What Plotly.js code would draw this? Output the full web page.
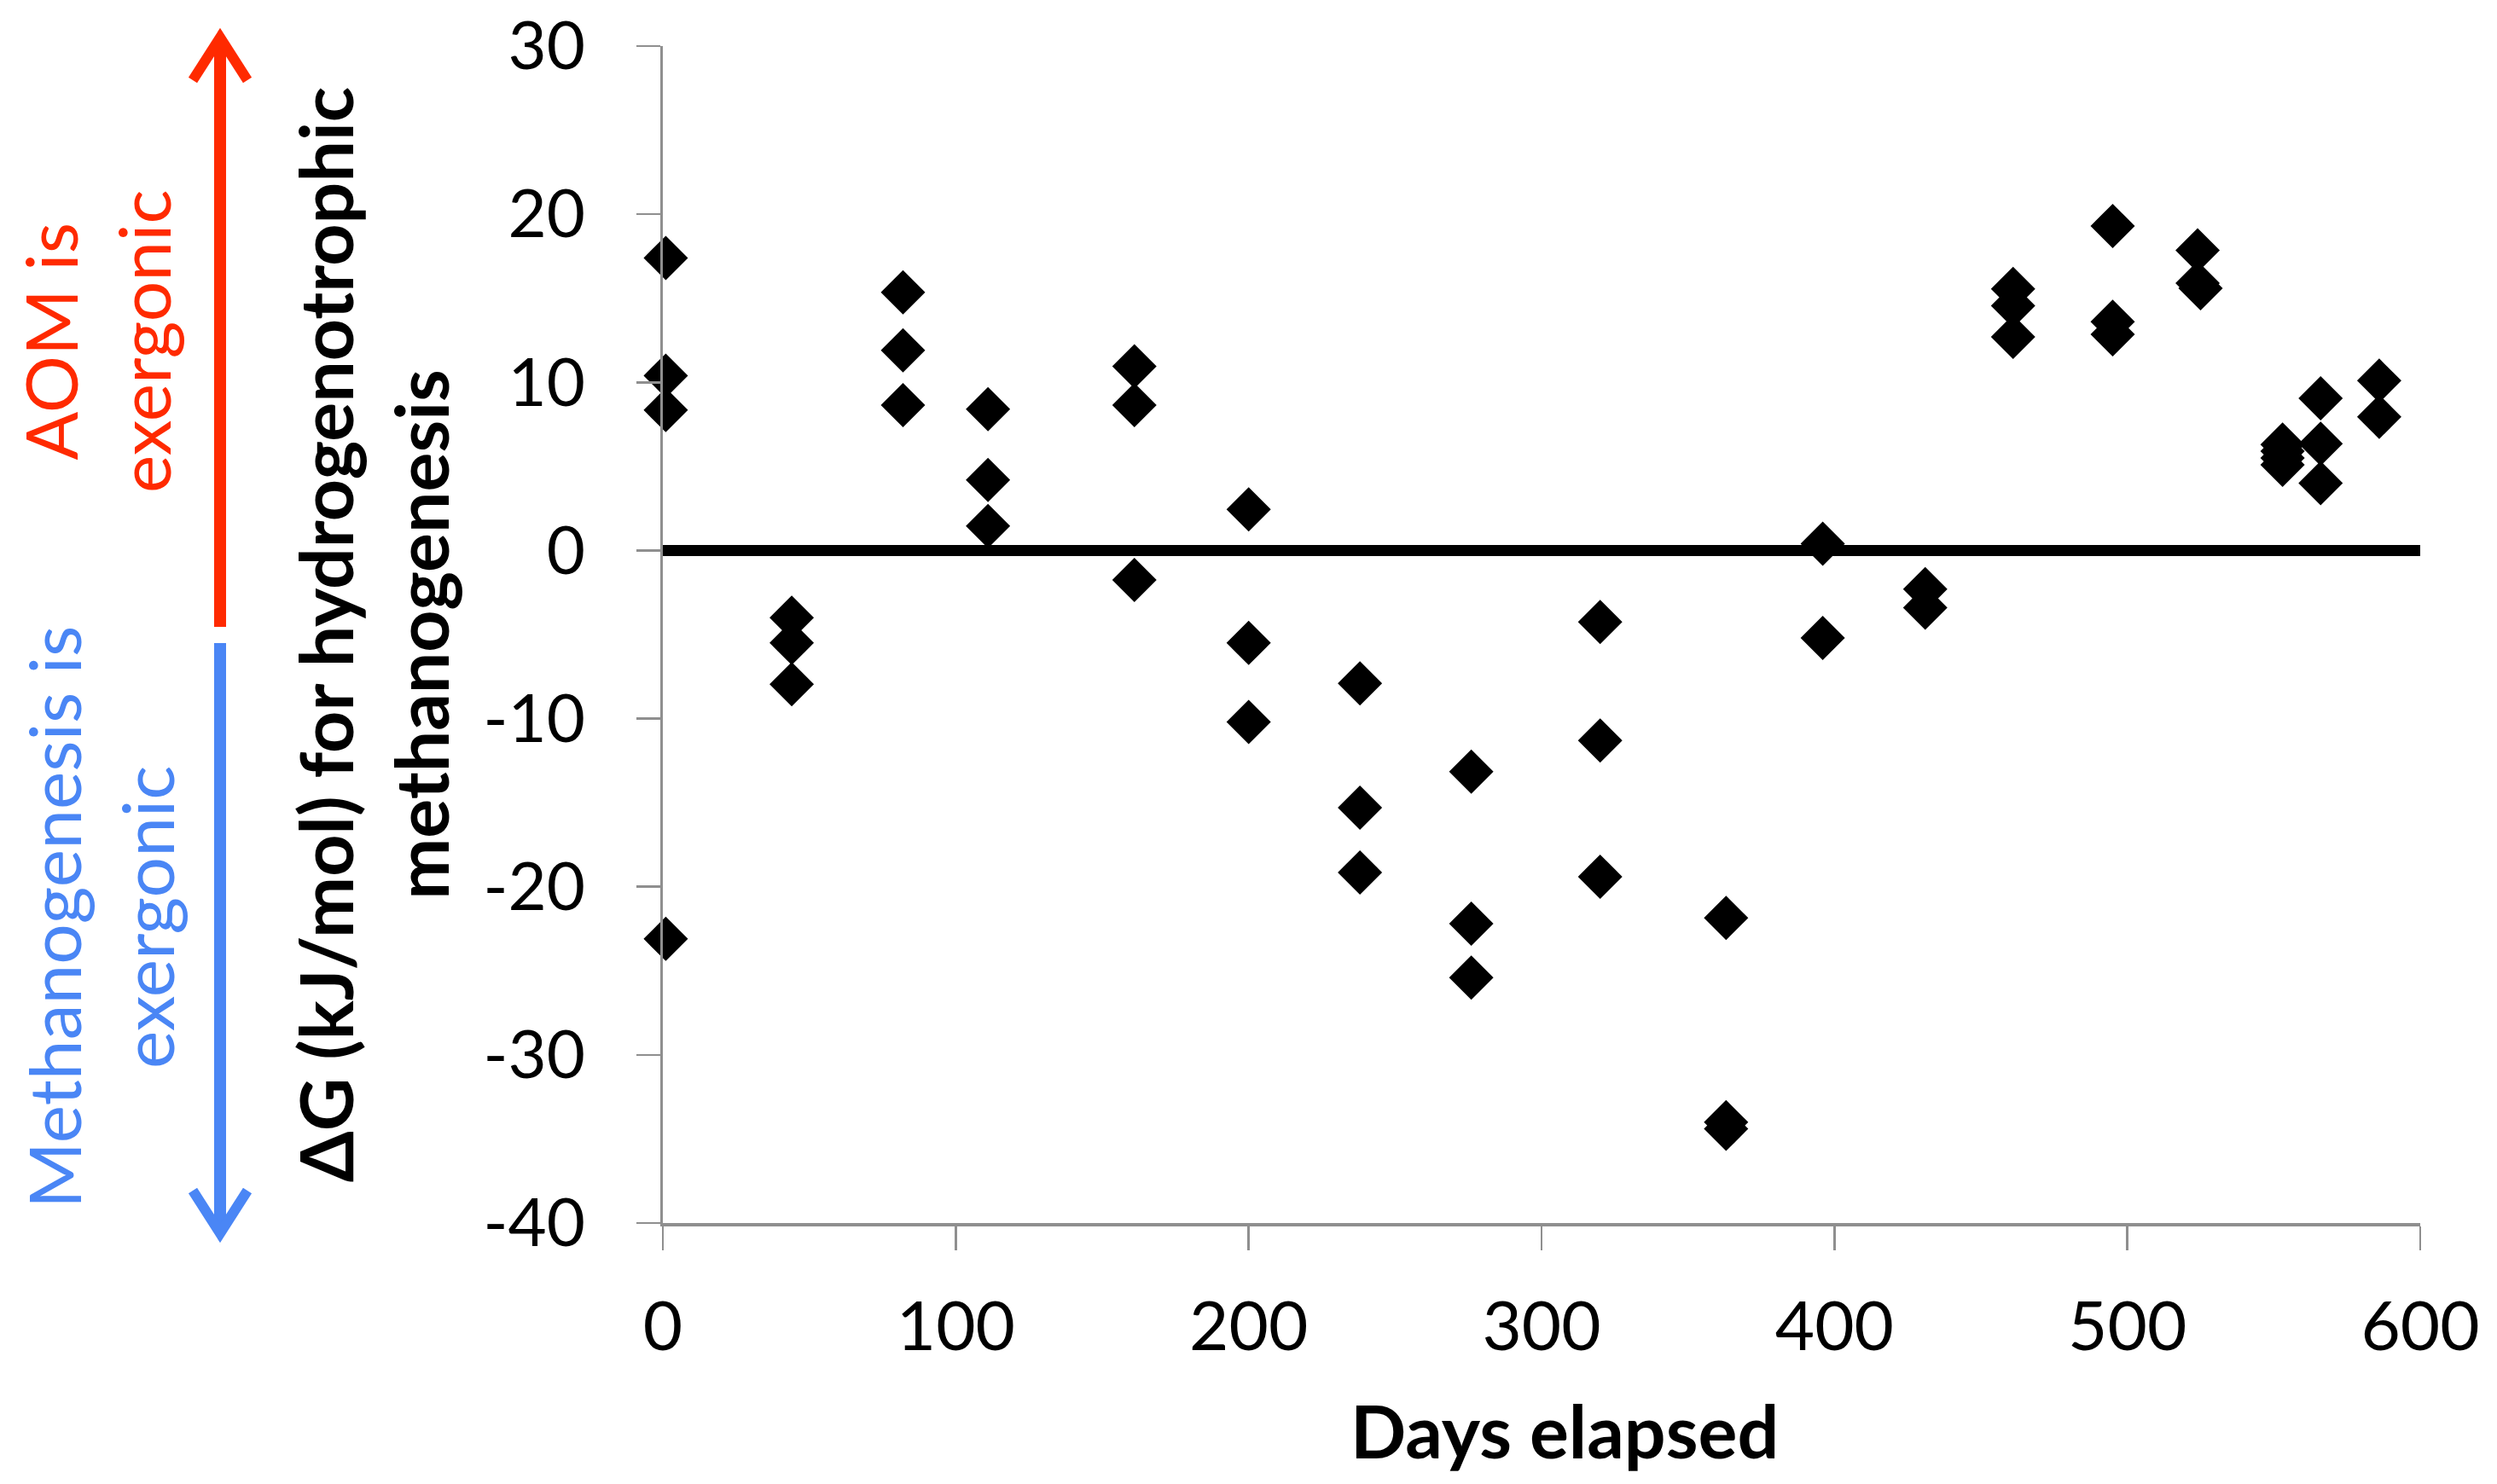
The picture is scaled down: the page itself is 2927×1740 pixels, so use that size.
<!DOCTYPE html>
<html>
<head>
<meta charset="utf-8">
<script src="https://cdn.plot.ly/plotly-3.0.1.min.js"></script>
<style>
  html, body { margin: 0; padding: 0; background: #fff; }
  #chart { width: 2927px; height: 1740px; }
</style>
</head>
<body>
<div id="chart"></div>
<script>
// sampling day of each measurement
const days = [
  1, 1, 1, 1,
  44, 44, 44,
  82, 82, 82,
  111, 111, 111,
  161, 161, 161,
  200, 200, 200,
  238, 238, 238,
  276, 276, 276,
  320, 320, 320,
  363, 363, 363,
  396, 396,
  431, 431,
  461, 461, 461,
  495, 495, 495,
  524, 524, 525,
  553, 553, 553, 553,
  566, 566, 566,
  586, 586
];

// ΔG (kJ/mol) for hydrogenotrophic methanogenesis
const deltaG = [
  17.4, 10.4, 8.35, -23.1,
  -4.0, -5.5, -7.95,
  15.35, 11.9, 8.65,
  8.4, 4.2, 1.45,
  10.95, 8.65, -1.75,
  2.45, -5.5, -10.2,
  -7.9, -15.3, -19.15,
  -13.15, -22.2, -25.4,
  -4.25, -11.3, -19.4,
  -21.85, -34.0, -34.4,
  0.4, -5.2,
  -2.3, -3.4,
  15.55, 14.55, 12.7,
  19.3, 13.6, 12.85,
  17.85, 15.9, 15.6,
  6.3, 5.9, 5.5, 5.1,
  9.05, 6.35, 4.0,
  10.1, 7.95
];

const xRange = [0, 600];
const yRange = [-40, 30];
const xTicks = [0, 100, 200, 300, 400, 500, 600];
const yTicks = [-40, -30, -20, -10, 0, 10, 20, 30];

const axisGray = "#8f8f8f";
const redCol = "#ff2a00";
const blueCol = "#4a86f5";

// plot area in page pixels, used to place the side labels and arrows in paper units
const M = { l: 777, r: 90, t: 54, b: 306 };
const W = 2927 - M.l - M.r;
const H = 1740 - M.t - M.b;
const px = v => (v - M.l) / W;
const py = v => (1740 - M.b - v) / H;

function pathFrom(points) {
  return points.map((p, i) => (i ? "L" : "M") + px(p[0]) + "," + py(p[1])).join(" ");
}

const traces = [{
  x: days,
  y: deltaG,
  type: "scatter",
  mode: "markers",
  cliponaxis: false,
  marker: { symbol: "diamond", size: 40, color: "#000", line: { width: 0 } },
  showlegend: false,
  hoverinfo: "x+y"
}];

const layout = {
  width: 2927,
  height: 1740,
  margin: M,
  paper_bgcolor: "#fff",
  plot_bgcolor: "#fff",
  font: { family: "Lato, 'Open Sans', sans-serif", color: "#000" },
  showlegend: false,

  xaxis: {
    range: xRange,
    tickvals: xTicks,
    ticktext: xTicks.map(String),
    showgrid: false,
    zeroline: false,
    showline: true,
    linecolor: axisGray,
    linewidth: 3.5,
    ticks: "outside",
    ticklen: 28,
    tickwidth: 2.5,
    tickcolor: axisGray,
    ticklabelstandoff: 21,
    tickfont: { size: 80, family: "Lato" }
  },

  yaxis: {
    range: yRange,
    tickvals: yTicks,
    ticktext: yTicks.map(String),
    showgrid: false,
    zeroline: false,
    showline: true,
    linecolor: axisGray,
    linewidth: 3.5,
    ticks: "outside",
    ticklen: 28,
    tickwidth: 2.5,
    tickcolor: axisGray,
    ticklabelstandoff: 44,
    ticklabeloverflow: "allow",
    tickfont: { size: 78, family: "Lato" },
    title: {
      text: "<b>ΔG (kJ/mol) for hydrogenotrophic<br>methanogenesis</b>",
      font: { size: 86, family: "Lato" },
      standoff: 12
    }
  },

  shapes: [
    // zero reference line
    {
      type: "line", xref: "x", yref: "y",
      x0: xRange[0], x1: xRange[1], y0: 0, y1: 0,
      line: { color: "#000", width: 13 }
    },
    // red arrow up
    {
      type: "path", xref: "paper", yref: "paper",
      path: pathFrom([[258, 735], [258, 46]]),
      line: { color: redCol, width: 14 }
    },
    {
      type: "path", xref: "paper", yref: "paper",
      path: pathFrom([[226, 94], [258, 44], [290, 94]]),
      line: { color: redCol, width: 12 }
    },
    // blue arrow down
    {
      type: "path", xref: "paper", yref: "paper",
      path: pathFrom([[258, 754], [258, 1444]]),
      line: { color: blueCol, width: 14 }
    },
    {
      type: "path", xref: "paper", yref: "paper",
      path: pathFrom([[226, 1396], [258, 1446], [290, 1396]]),
      line: { color: blueCol, width: 12 }
    }
  ],

  annotations: [
    // x axis title
    {
      xref: "paper", yref: "paper",
      x: px(1834), y: py(1676),
      xanchor: "center", yanchor: "middle",
      text: "<b>Days elapsed</b>",
      showarrow: false,
      font: { size: 86, color: "#000", family: "Lato" }
    },
    {
      xref: "paper", yref: "paper",
      x: px(113), y: py(400),
      xanchor: "center", yanchor: "middle",
      text: "AOM is<br>exergonic",
      textangle: -90,
      align: "center",
      showarrow: false,
      font: { size: 84, color: redCol, family: "Lato" }
    },
    {
      xref: "paper", yref: "paper",
      x: px(117), y: py(1076),
      xanchor: "center", yanchor: "middle",
      text: "Methanogenesis is<br>exergonic",
      textangle: -90,
      align: "center",
      showarrow: false,
      font: { size: 84, color: blueCol, family: "Lato" }
    }
  ]
};

Plotly.newPlot("chart", traces, layout, { displayModeBar: false, staticPlot: true });
</script>
</body>
</html>
